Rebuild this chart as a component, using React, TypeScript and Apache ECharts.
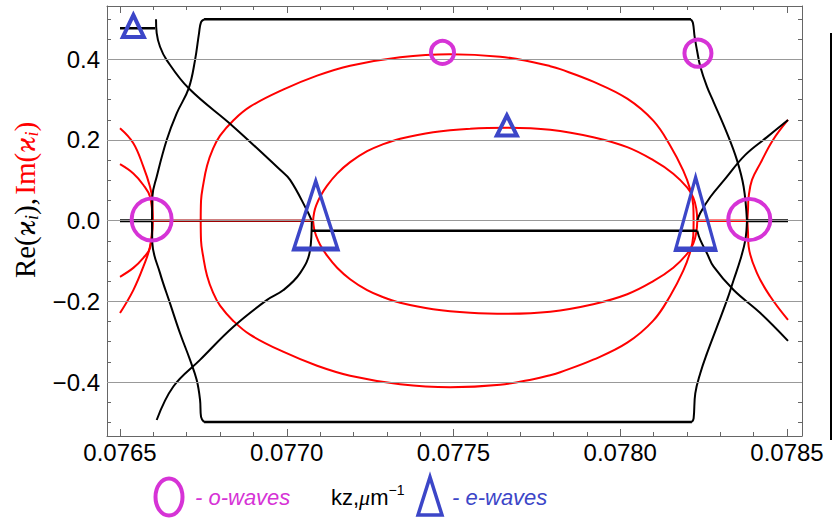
import React, { useEffect, useRef } from 'react';
import * as echarts from 'echarts';

// ---------- axis values ----------
const xMajorTicks = [0.0765, 0.077, 0.0775, 0.078, 0.0785];
const xMinorTicks = [0.0765, 0.0766, 0.0767, 0.0768, 0.0769, 0.077, 0.0771, 0.0772, 0.0773, 0.0774, 0.0775,
  0.0776, 0.0777, 0.0778, 0.0779, 0.078, 0.0781, 0.0782, 0.0783, 0.0784, 0.0785];
const yMajorTicks = [-0.4, -0.2, 0, 0.2, 0.4];
const yMinorTicks = [-0.5, -0.45, -0.4, -0.35, -0.3, -0.25, -0.2, -0.15, -0.1, -0.05, 0, 0.05, 0.1, 0.15, 0.2,
  0.25, 0.3, 0.35, 0.4, 0.45, 0.5];
const xGridLines = [0.077, 0.078];
const yGridLines = [-0.4, -0.2, 0, 0.2, 0.4];

// ---------- Re (black) branches ----------
const reUpperLeft = [[0.076596, 0], [0.076597, 0.0595], [0.07661, 0.109], [0.07664, 0.2], [0.07667, 0.266],
  [0.076706, 0.328], [0.076725, 0.398], [0.076737, 0.465], [0.076743, 0.492], [0.076752, 0.499]];
const reTopFlat = [[0.076752, 0.499], [0.078212, 0.499]];
const reUpperRight = [[0.078212, 0.499], [0.078218, 0.49], [0.078223, 0.456], [0.07823, 0.423], [0.07824, 0.382],
  [0.07826, 0.332], [0.07828, 0.294], [0.07832, 0.217], [0.07835, 0.15], [0.07837, 0.084], [0.07838, 0]];
const reLowerLeft = [[0.076596, 0], [0.076597, -0.056], [0.07662, -0.13], [0.07665, -0.205], [0.07668, -0.279],
  [0.07671, -0.345], [0.07673, -0.395], [0.07674, -0.444], [0.076743, -0.486], [0.076752, -0.499]];
const reBottomFlat = [[0.076752, -0.499], [0.078215, -0.499]];
const reLowerRight = [[0.078215, -0.499], [0.07822, -0.49], [0.078225, -0.428], [0.07824, -0.378],
  [0.07826, -0.329], [0.07829, -0.263], [0.07832, -0.197], [0.07834, -0.147], [0.07836, -0.097],
  [0.078375, -0.048], [0.07838, 0]];
const reCrossUpper = [[0.076608, 0.499], [0.07661, 0.465], [0.07662, 0.431], [0.07664, 0.398], [0.076706, 0.328],
  [0.07684, 0.233], [0.07698, 0.126], [0.07701, 0.101], [0.07706, 0.0265], [0.077075, 0]];
const reCrossLower = [[0.077075, 0], [0.07707, -0.0726], [0.07704, -0.13], [0.07699, -0.172], [0.07694, -0.197],
  [0.07684, -0.263], [0.07674, -0.345], [0.07666, -0.411], [0.07661, -0.494]];
const reRightUpper = [[0.078231, 0], [0.07824, 0.019], [0.07827, 0.0587], [0.078312, 0.101], [0.078375, 0.163],
  [0.07844, 0.207], [0.078503, 0.2496]];
const reRightLower = [[0.078231, -0.0248], [0.07824, -0.0478], [0.07826, -0.0808], [0.07828, -0.114],
  [0.07834, -0.172], [0.07842, -0.229], [0.078503, -0.298]];
const reMidFlat = [[0.077075, -0.0248], [0.078231, -0.0248]];
const reLeftZero = [[0.0765, 0], [0.076596, 0]];
const reRightZero = [[0.07838, 0], [0.078503, 0]];
const reTopLeftShort = [[0.0765, 0.477], [0.076605, 0.477]];

// ---------- Im (red) branches ----------
const imLeftZero = [[0.076596, 0], [0.077075, 0]];
const imRightZero = [[0.078231, 0], [0.07838, 0]];
const imOuterUpper = [[0.076742, 0], [0.076743, 0.0496], [0.076749, 0.0867], [0.076761, 0.1363], [0.076779, 0.1784],
  [0.0768, 0.2107], [0.076839, 0.2478], [0.07689, 0.2825], [0.076989, 0.3247], [0.077091, 0.3594], [0.07719, 0.3841],
  [0.07734, 0.4052], [0.07749, 0.4126], [0.07764, 0.4064], [0.077739, 0.3928], [0.07779, 0.3829], [0.07782, 0.3755],
  [0.077919, 0.3445], [0.078021, 0.3024], [0.078099, 0.2478], [0.07815, 0.1859], [0.078189, 0.1239],
  [0.07821, 0.0768], [0.078219, 0.0372], [0.07822, 0]];
const imOuterLower = [[0.076742, 0], [0.076743, -0.0496], [0.076749, -0.0867], [0.076761, -0.1363],
  [0.076779, -0.1784], [0.0768, -0.2107], [0.076839, -0.2478], [0.07689, -0.2825], [0.076989, -0.3247],
  [0.077091, -0.3594], [0.07719, -0.3841], [0.07734, -0.4052], [0.07749, -0.4126], [0.07764, -0.4064],
  [0.077739, -0.3928], [0.07779, -0.3829], [0.07782, -0.3755], [0.077919, -0.3445], [0.078021, -0.3024],
  [0.078099, -0.2478], [0.07815, -0.1859], [0.078189, -0.1239], [0.07821, -0.0768], [0.078219, -0.0372],
  [0.07822, 0]];
const imInnerUpper = [[0.077079, 0], [0.077082, 0.0198], [0.077088, 0.0372], [0.0771, 0.0595], [0.077121, 0.0867],
  [0.077151, 0.1165], [0.07719, 0.145], [0.077241, 0.1722], [0.077289, 0.1896], [0.07734, 0.2032],
  [0.077439, 0.2193], [0.07755, 0.228], [0.077661, 0.2305], [0.07779, 0.2255], [0.077919, 0.2069],
  [0.078021, 0.1822], [0.078099, 0.1499], [0.078159, 0.1165], [0.078201, 0.0818], [0.078219, 0.057],
  [0.078228, 0.0297], [0.078231, 0]];
const imInnerLower = [[0.077079, 0], [0.077082, -0.0198], [0.077088, -0.0372], [0.0771, -0.0595],
  [0.077121, -0.0867], [0.077151, -0.1165], [0.07719, -0.145], [0.077241, -0.1722], [0.077289, -0.1896],
  [0.07734, -0.2032], [0.077439, -0.2193], [0.07755, -0.228], [0.077661, -0.2305], [0.07779, -0.2255],
  [0.077919, -0.2069], [0.078021, -0.1822], [0.078099, -0.1499], [0.078159, -0.1165], [0.078201, -0.0818],
  [0.078219, -0.057], [0.078228, -0.0297], [0.078231, 0]];
const imLeftFanA = [[0.0765, 0.229], [0.07654, 0.192], [0.07657, 0.134], [0.07659, 0.084], [0.076597, 0.051], [0.076598, 0]];
const imLeftFanB = [[0.0765, 0.14], [0.07654, 0.117], [0.07657, 0.0885], [0.07659, 0.0595], [0.076598, 0]];
const imLeftFanC = [[0.0765, -0.229], [0.07654, -0.172], [0.07657, -0.114], [0.07659, -0.064], [0.076598, 0]];
const imLeftFanD = [[0.0765, -0.139], [0.07654, -0.117], [0.07657, -0.092], [0.07659, -0.068], [0.076598, 0]];
const imRightFanUp = [[0.078503, 0.2496], [0.078458, 0.2], [0.07842, 0.142], [0.078395, 0.101], [0.078385, 0.059],
  [0.078383, 0.0265], [0.078381, 0]];
const imRightFanDown = [[0.078381, 0], [0.078383, -0.028], [0.078385, -0.064], [0.07841, -0.13], [0.07845, -0.188],
  [0.078503, -0.246]];

// ---------- wave markers ----------
const oWaves = [[0.076595, 0.003], [0.077467, 0.417], [0.078233, 0.415], [0.078387, 0.003]];
const eWaves = [[0.07654, 0.4825], [0.07766, 0.236], [0.077087, 0.014], [0.078226, 0.0183]];

// ---------- styles ----------
const oWaveSizes = [[40, 42], [23, 23], [27, 27], [42, 41]];
const eWaveSizes = [[21, 22], [20, 20], [44, 68], [40, 72]];
const MAGENTA = '#d633d6';
const BLUE = '#3c46c8';
const RED = '#ff0000';
const DARKRED = '#a00000';
const FRAME = '#666';
const SANS = '"Liberation Sans", Arial, sans-serif';
const SERIF = '"Liberation Serif", "DejaVu Serif", serif';

const xMin = 0.076461, xMax = 0.078545, yMin = -0.5336, yMax = 0.532;

function mkX(position: string, ticks: number[], len: number, labels: boolean, line: boolean) {
  return {
    type: 'value', min: xMin, max: xMax, position, gridIndex: 0,
    axisLine: { show: line, onZero: false, lineStyle: { color: FRAME, width: 1 } },
    axisTick: { show: true, inside: true, length: len, customValues: ticks, lineStyle: { color: FRAME, width: 1 } },
    axisLabel: labels ? {
      show: true, customValues: xMajorTicks, margin: 4, color: '#000', fontSize: 24, fontFamily: SANS,
      formatter: (v: number) => v.toFixed(4),
    } : { show: false },
    splitLine: { show: false },
  };
}
function mkY(position: string, ticks: number[], len: number, labels: boolean, line: boolean) {
  return {
    type: 'value', min: yMin, max: yMax, position, gridIndex: 0,
    axisLine: { show: line, onZero: false, lineStyle: { color: FRAME, width: 1 } },
    axisTick: { show: true, inside: true, length: len, customValues: ticks, lineStyle: { color: FRAME, width: 1 } },
    axisLabel: labels ? {
      show: true, customValues: yMajorTicks, margin: 7, color: '#000', fontSize: 24, fontFamily: SANS,
      formatter: (v: number) => (Math.abs(v) < 1e-9 ? '0.0' : v.toFixed(1).replace('-', '\u2212')),
    } : { show: false },
    splitLine: { show: false },
  };
}

function lineSeries(data: number[][], color: string, width: number, smooth: number | boolean = 0.4) {
  return {
    type: 'line', data, xAxisIndex: 0, yAxisIndex: 0, showSymbol: false, symbol: 'none', smooth,
    lineStyle: { color, width }, silent: true, z: 3,
  };
}

export default function App() {
  const ref = useRef<HTMLDivElement>(null);
  useEffect(() => {
    document.body.style.margin = '0';
    const chart = echarts.init(ref.current!, null, { renderer: 'svg' });
    const series: any[] = [
      {
        type: 'line', data: [[0.0765, 0]], xAxisIndex: 0, yAxisIndex: 0, showSymbol: false, symbol: 'none',
        lineStyle: { opacity: 0 }, z: 1, silent: true,
        markLine: {
          silent: true, symbol: ['none', 'none'], label: { show: false },
          lineStyle: { color: '#999', width: 1, type: 'solid' },
          data: [...xGridLines.map((v) => ({ xAxis: v })), ...yGridLines.map((v) => ({ yAxis: v }))],
        },
      },
      // red (Im)
      lineSeries(imOuterUpper, RED, 2),
      lineSeries(imOuterLower, RED, 2),
      lineSeries(imInnerUpper, RED, 2),
      lineSeries(imInnerLower, RED, 2),
      lineSeries(imLeftFanA, RED, 2),
      lineSeries(imLeftFanB, RED, 2),
      lineSeries(imLeftFanC, RED, 2),
      lineSeries(imLeftFanD, RED, 2),
      lineSeries(imRightFanUp, RED, 2),
      lineSeries(imRightFanDown, RED, 2),
      lineSeries(imRightZero, RED, 2.5, false),
      // black (Re)
      lineSeries(reUpperLeft, '#000', 2),
      lineSeries(reTopFlat, '#000', 2.5, false),
      lineSeries(reUpperRight, '#000', 2),
      lineSeries(reLowerLeft, '#000', 2),
      lineSeries(reBottomFlat, '#000', 2.5, false),
      lineSeries(reLowerRight, '#000', 2),
      lineSeries(reCrossUpper, '#000', 2),
      lineSeries(reCrossLower, '#000', 2),
      lineSeries(reRightUpper, '#000', 2),
      lineSeries(reRightLower, '#000', 2),
      lineSeries(reMidFlat, '#000', 2.5, false),
      lineSeries(reLeftZero, '#000', 3, false),
      lineSeries(reRightZero, '#000', 3, false),
      lineSeries(reTopLeftShort, '#000', 2.5, false),
      lineSeries(imLeftZero, DARKRED, 2.5, false),
      // markers
      {
        type: 'scatter', xAxisIndex: 0, yAxisIndex: 0, symbol: 'circle', z: 6, silent: true,
        data: oWaves.map((p, i) => ({ value: p, symbolSize: oWaveSizes[i] })),
        itemStyle: { color: 'rgba(0,0,0,0)', borderColor: MAGENTA, borderWidth: 4, opacity: 1 },
      },
      {
        type: 'scatter', xAxisIndex: 0, yAxisIndex: 0, symbol: 'triangle', z: 6, silent: true,
        data: eWaves.map((p, i) => ({ value: p, symbolSize: eWaveSizes[i] })),
        itemStyle: { color: 'rgba(0,0,0,0)', borderColor: BLUE, borderWidth: 4, borderJoin: 'miter', opacity: 1 },
      },
    ];

    const option: any = {
      animation: false,
      backgroundColor: '#fff',
      grid: { left: 107, right: 30, top: 6, bottom: 85, containLabel: false },
      xAxis: [
        mkX('bottom', xMajorTicks, 7, true, true),
        mkX('top', xMajorTicks, 7, false, true),
        mkX('bottom', xMinorTicks, 4, false, false),
        mkX('top', xMinorTicks, 4, false, false),
      ],
      yAxis: [
        mkY('left', yMajorTicks, 7, true, true),
        mkY('right', yMajorTicks, 7, false, true),
        mkY('left', yMinorTicks, 4, false, false),
        mkY('right', yMinorTicks, 4, false, false),
      ],
      series,
      graphic: [
        {
          type: 'text', x: 25, y: 200, rotation: Math.PI / 2, silent: true,
          style: {
            text: '{re|Re(}{k|\u03f0}{s|i}{re|),} {im|Im(}{kr|\u03f0}{sr|i}{im|)}',
            align: 'center', verticalAlign: 'middle',
            rich: {
              re: { fontFamily: SERIF, fontSize: 29, fill: '#000' },
              k: { fontFamily: SERIF, fontSize: 29, fontStyle: 'italic', fill: '#000' },
              s: { fontFamily: SERIF, fontSize: 18, fontStyle: 'italic', fill: '#000', padding: [14, 0, 0, 0] },
              im: { fontFamily: SERIF, fontSize: 29, fill: RED },
              kr: { fontFamily: SERIF, fontSize: 29, fontStyle: 'italic', fill: RED },
              sr: { fontFamily: SERIF, fontSize: 18, fontStyle: 'italic', fill: RED, padding: [14, 0, 0, 0] },
            },
          },
        },
        {
          type: 'ellipse', silent: true, shape: { cx: 169, cy: 497, rx: 13.5, ry: 18.5 },
          style: { fill: 'none', stroke: MAGENTA, lineWidth: 4 },
        },
        {
          type: 'text', x: 195, y: 497, silent: true,
          style: { text: '- o-waves', fill: MAGENTA, fontSize: 22, fontStyle: 'italic', fontFamily: SANS, verticalAlign: 'middle' },
        },
        {
          type: 'text', x: 331, y: 497, silent: true,
          style: {
            text: '{a|kz,}{mu|\u03bc}{a|m}{sup|\u22121}', verticalAlign: 'middle',
            rich: {
              a: { fontSize: 22, fontFamily: SANS, fill: '#000' },
              mu: { fontSize: 22, fontFamily: SERIF, fontStyle: 'italic', fill: '#000' },
              sup: { fontSize: 14, fontFamily: SANS, fill: '#000', padding: [0, 0, 14, 0] },
            },
          },
        },
        {
          type: 'polygon', silent: true, shape: { points: [[430, 477], [418, 515], [442, 515]] },
          style: { fill: 'none', stroke: BLUE, lineWidth: 3.5 },
        },
        {
          type: 'text', x: 452, y: 497, silent: true,
          style: { text: '- e-waves', fill: BLUE, fontSize: 22, fontStyle: 'italic', fontFamily: SANS, verticalAlign: 'middle' },
        },
        {
          type: 'line', silent: true, shape: { x1: 831, y1: 33, x2: 831, y2: 440 },
          style: { stroke: '#000', lineWidth: 2 },
        },
      ],
    };
    chart.setOption(option);
    return () => chart.dispose();
  }, []);
  return <div ref={ref} style={{ width: 832, height: 521, position: 'absolute', left: 0, top: 0 }} />;
}
